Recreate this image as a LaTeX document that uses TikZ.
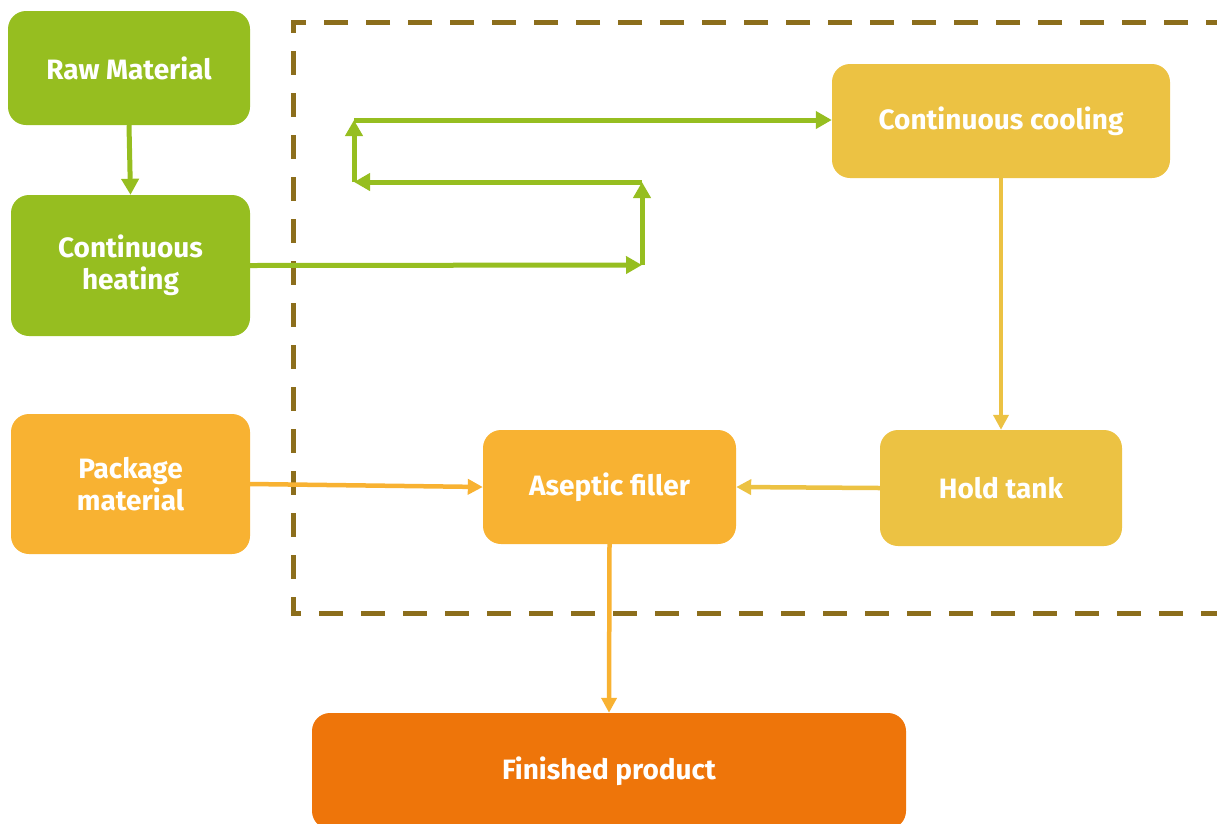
\documentclass[tikz,border=0pt]{standalone}
\usepackage{fontspec}
\setmainfont{Fira Sans}
\usetikzlibrary{arrows.meta}
\definecolor{cgreen}{HTML}{96BE20}
\definecolor{corange}{HTML}{F8B232}
\definecolor{cyellow}{HTML}{ECC243}
\definecolor{cdark}{HTML}{EE750A}
\definecolor{cdash}{HTML}{8C6E1C}
\tikzset{
  box/.style={rounded corners=18pt, inner sep=0pt, align=center, text=white,
    font=\fontsize{28}{32}\selectfont\bfseries},
  garrow/.style={draw=cgreen, line width=5pt, -{Triangle[length=16pt,width=17pt]}},
  oarrow/.style={draw=corange, line width=4.5pt, -{Triangle[length=15pt,width=15pt]}},
  yarrow/.style={draw=cyellow, line width=4.5pt, -{Triangle[length=15pt,width=15pt]}},
}
\begin{document}
\begin{tikzpicture}[x=1pt,y=-1pt]
\useasboundingbox (0,0) rectangle (1217,823);
% dashed region
\draw[cdash, line width=5pt, dash pattern=on 24pt off 18pt]
  (1230,22) -- (293,22) -- (293,613) -- (1230,613);
% nodes
\node[box, fill=cgreen, minimum width=242pt, minimum height=114pt] (raw) at (129,68) {Raw Material};
\node[box, fill=cgreen, minimum width=239pt, minimum height=141pt] (heat) at (130.5,265.5) {Continuous\\heating};
\node[box, fill=corange, minimum width=239pt, minimum height=140pt] (pack) at (130.5,484) {Package\\material};
\node[box, fill=corange, minimum width=253pt, minimum height=114pt] (asep) at (609.5,487) {Aseptic filler};
\node[box, fill=cyellow, minimum width=242pt, minimum height=116pt] (hold) at (1001,488) {Hold tank};
\node[box, fill=cyellow, minimum width=338pt, minimum height=114pt] (cool) at (1001,121) {Continuous cooling};
\node[box, fill=cdark, minimum width=594pt, minimum height=116pt] (fin) at (609,771) {Finished product};
% loop coordinates
\coordinate (c1) at (642,265);
\coordinate (c2) at (642,182);
\coordinate (c3) at (354,182);
\coordinate (c4) at (354,120);
% connectors
\draw[garrow] (raw.south) -- (heat.north);
\draw[garrow] (heat.east) -- (c1);
\draw[garrow] (c1) -- (c2);
\draw[garrow] (c2) -- (c3);
\draw[garrow] (c3) -- (c4);
\draw[garrow] (c4) -- (c4 -| cool.west);
\draw[oarrow] (pack.east) -- (asep.west);
\draw[yarrow] (hold.west) -- (asep.east);
\draw[yarrow] (cool.south) -- (hold.north);
\draw[oarrow] (asep.south) -- (fin.north);
\end{tikzpicture}
\end{document}
